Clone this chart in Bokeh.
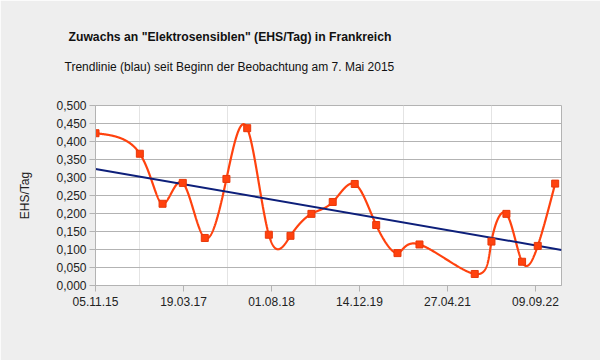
import numpy as np
from bokeh.plotting import figure
from bokeh.models import (Range1d, FixedTicker, CustomJSTickFormatter, Title, ColumnDataSource)
from bokeh.embed import file_html
from bokeh.resources import INLINE

# ---- data ----
# days since 05.11.2015
days = [0, 252, 381, 496, 621, 744, 862, 985, 1108, 1227, 1348, 1473, 1595,
        1716, 1841, 2155, 2250, 2335, 2424, 2513, 2612]
ehs_per_day = [0.423, 0.366, 0.227, 0.285, 0.132, 0.296, 0.437, 0.141, 0.138,
               0.199, 0.232, 0.282, 0.168, 0.090, 0.114, 0.032, 0.122, 0.199,
               0.066, 0.110, 0.283]
x_tick_days = [0, 500, 1000, 1500, 2000, 2500]
x_tick_labels = ["05.11.15", "19.03.17", "01.08.18", "14.12.19", "27.04.21", "09.09.22"]
x_max_day = 2648

title_text = 'Zuwachs an "Elektrosensiblen" (EHS/Tag) in Frankreich'
subtitle_text = "Trendlinie (blau) seit Beginn der Beobachtung am 7. Mai 2015"
y_label = "EHS/Tag"

W, H = 600, 360
L, R, B = 95, 39, 75


def nat_coeffs(t, v):
    m = len(t)
    h = np.diff(t)
    A = np.zeros((m, m))
    r = np.zeros(m)
    A[0, 0] = 1
    A[-1, -1] = 1
    for i in range(1, m - 1):
        A[i, i - 1] = h[i - 1]
        A[i, i] = 2 * (h[i - 1] + h[i])
        A[i, i + 1] = h[i]
        r[i] = 6 * ((v[i + 1] - v[i]) / h[i] - (v[i] - v[i - 1]) / h[i - 1])
    return np.linalg.solve(A, r)


def nat_eval(t, v, M, ts):
    m = len(t)
    idx = np.clip(np.searchsorted(t, ts) - 1, 0, m - 2)
    t0, t1 = t[idx], t[idx + 1]
    hh = t1 - t0
    a = t1 - ts
    b = ts - t0
    return (M[idx] * a ** 3 / (6 * hh) + M[idx + 1] * b ** 3 / (6 * hh)
            + (v[idx] / hh - M[idx] * hh / 6) * a
            + (v[idx + 1] / hh - M[idx + 1] * hh / 6) * b)


def parametric_spline(x, y, n=3000):
    # natural cubic spline, uniform parameterisation
    x = np.asarray(x, float)
    y = np.asarray(y, float)
    t = np.arange(len(x), dtype=float)
    ts = np.linspace(0, t[-1], n)
    return nat_eval(t, x, nat_coeffs(t, x), ts), nat_eval(t, y, nat_coeffs(t, y), ts)


sx, sy = parametric_spline(days, ehs_per_day)
slope, icpt = np.polyfit(days, ehs_per_day, 1)
trend_x = [0, x_max_day]
trend_y = [icpt + slope * v for v in trend_x]

FONT = "Liberation Sans"
BG = "#eeeeee"

p = figure(width=W, height=H, output_backend="svg", toolbar_location=None,
           x_range=Range1d(0, x_max_day), y_range=Range1d(0, 0.5),
           min_border_left=L, min_border_right=R, min_border_top=0,
           min_border_bottom=B, background_fill_color="white",
           border_fill_color=BG, outline_line_color="#b3b3b3", title=None)

# titles, stacked upward from the plot frame
p.add_layout(Title(text=" ", text_font=FONT, text_font_size="12px", standoff=16), "above")
p.add_layout(Title(text=subtitle_text, align="left", offset=-31, text_font=FONT,
                   text_font_size="12px", text_font_style="normal",
                   text_color="#111111", standoff=0), "above")
p.add_layout(Title(text=title_text, align="left", offset=-27, text_font=FONT,
                   text_font_size="12.2px", text_font_style="bold",
                   text_color="#111111", standoff=28), "above")
p.add_layout(Title(text=" ", text_font=FONT, text_font_size="1px", standoff=10), "above")

# grid
yt = list(np.round(np.arange(0, 0.5001, 0.05), 3))
p.ygrid.ticker = FixedTicker(ticks=yt)
p.ygrid.grid_line_color = "#b3b3b3"
p.xgrid.ticker = FixedTicker(ticks=[v + 250 for v in x_tick_days[:-1]])
p.xgrid.grid_line_color = "#e4e4e4"

# axes
p.yaxis.ticker = FixedTicker(ticks=yt)
p.yaxis.formatter = CustomJSTickFormatter(code="return tick.toFixed(3).replace('.', ',');")
p.xaxis.ticker = FixedTicker(ticks=x_tick_days)
p.xaxis.major_label_overrides = {d: l for d, l in zip(x_tick_days, x_tick_labels)}
for ax in (p.xaxis[0], p.yaxis[0]):
    ax.axis_line_color = "#b3b3b3"
    ax.major_tick_line_color = "#b3b3b3"
    ax.major_tick_out = 6
    ax.major_tick_in = 0
    ax.minor_tick_line_color = None
    ax.major_label_text_font = FONT
    ax.major_label_text_font_size = "12px"
    ax.major_label_text_color = "#222222"
p.xaxis.major_label_standoff = 5
p.yaxis.major_label_standoff = 3
p.yaxis.axis_label = y_label
p.yaxis.axis_label_text_font = FONT
p.yaxis.axis_label_text_font_size = "12px"
p.yaxis.axis_label_text_font_style = "normal"
p.yaxis.axis_label_text_color = "#222222"
p.yaxis.axis_label_standoff = 21

# series
p.line(sx, sy, line_color="#ff420e", line_width=2.2)
p.line(trend_x, trend_y, line_color="#0d1f7a", line_width=2)
src = ColumnDataSource(dict(x=days, y=ehs_per_day))
p.scatter("x", "y", source=src, marker="square", size=7, fill_color="#ff420e",
          line_color="#e8380a", line_width=1)

html = file_html(p, INLINE)
html = html.replace("<body>", '<body style="background-color:#eeeeee">', 1)
open("out.html", "w").write(html)
